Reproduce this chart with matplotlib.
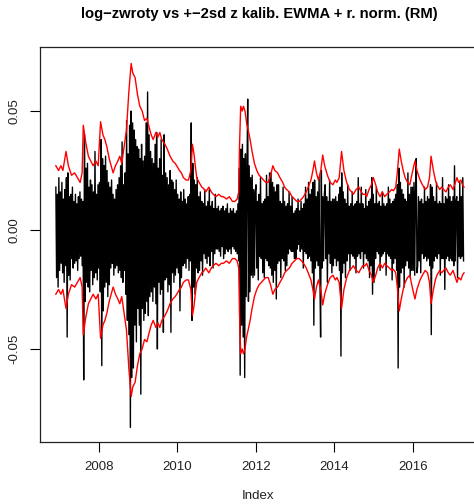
import numpy as np
import pandas as pd
import matplotlib
matplotlib.use('Agg')
import matplotlib.pyplot as plt

plt.rcParams['font.family'] = ['Liberation Sans', 'DejaVu Sans']

# weekly log-returns, in per mille (one list per calendar year)
r2006 = [18, -20, 15, -24, 22, -17]
r2007 = [16, -14, 20, -18, 13, -22, 17, -15, 22, -45,
         24, -19, 14, -21, 15, -12, 18, -16, 12, -14,
         15, -13, 11, -17, 14, -12, 16, -11, 13, -15,
         12, -63, 40, -30, 26, -22, 28, -24, 18, -26,
         21, -17, 19, -23, 16, -20, 33, -18, 15, -21, 19, -16]
r2008 = [20, -26, 38, -57, 30, -34, 27, -24, 31, -22,
         25, -28, 20, -23, 18, -16, 21, -14, 15, -19,
         13, -16, 17, -15, 19, -18, 22, -17, 27, -20,
         37, -22, 19, -17, 24, -27, 46, -38, 32, -44,
         44, -83, 50, -62, 45, -58, 42, -40, 38, -47, 35, -33]
r2009 = [34, -40, 30, -69, 36, -33, 29, -38, 31, -35,
         45, -30, 58, -36, 40, -28, 33, -26, 30, -30,
         28, -24, 36, -31, 41, -50, 26, -22, 30, -27,
         38, -25, 23, -43, 40, -21, 24, -20, 22, -26,
         19, -23, 25, -43, 21, -18, 20, -22, 17, -19, 21, -16]
r2010 = [15, -18, 13, -34, 16, -20, 12, -15, 17, -14,
         13, -16, 11, -12, 14, -17, 15, -13, 45, -38,
         28, -24, 21, -27, 19, -16, 22, -18, 14, -17,
         16, -13, 12, -19, 11, -10, 17, -12, 10, -14,
         12, -11, 17, -15, 10, -9, 12, -16, 9, -10, 15, -8]
r2011 = [9, -8, 10, -9, 8, -11, 9, -7, 10, -12,
         8, -10, 9, -8, 11, -9, 7, -8, 9, -10,
         8, -7, 9, -8, 7, -9, 8, -10, 11, -13,
         26, -61, 34, -40, 36, -45, 30, -62, 32, -28,
         24, 55, -30, 27, -26, 22, -19, 23, -20, 17, -19, 16]
r2012 = [19, -16, 12, -21, 15, -11, 22, -12, 11, -18,
         12, -20, 13, -12, 23, -13, 14, -15, 24, -16,
         24, -19, 20, -22, 18, -17, 16, -29, 19, -14,
         19, -13, 12, -20, 11, -12, 18, -13, 12, -17,
         10, -15, 11, -10, 16, -8, 10, -9, 14, -9, 7, -12]
r2013 = [8, -12, 9, -8, 13, -6, 8, -9, 12, -8,
         9, -16, 11, -9, 18, -10, 13, -12, 20, -11,
         15, -13, 17, -18, 20, -40, 21, -16, 14, -13,
         16, -15, 22, -18, -45, 25, -16, 14, -13, 15,
         19, -12, 14, -22, 12, -10, 21, -14, 12, -18, 13, -15]
r2014 = [13, -12, 14, -15, 12, -13, 15, -17, 18, -53,
         24, -18, 16, -14, 13, -20, 11, -13, 19, -10,
         10, -17, 11, -10, 16, -11, 10, -12, 11, -18,
         12, -11, 22, -10, 11, -12, 18, -9, 11, -16,
         9, -10, 17, -12, 10, -13, 12, -20, 13, -15, 22, -27]
r2015 = [15, -22, 11, -12, 18, -9, 11, -10, 12, -17,
         10, -11, 16, -10, 11, -9, 10, -19, 11, -10,
         18, -11, 13, -12, 11, -21, 12, -14, 13, -12,
         15, -17, 19, -58, 26, -24, 20, -18, 17, -16,
         15, -24, 13, -15, 12, -13, 24, -16, 15, -20, 18, -17]
r2016 = [18, -17, 20, -19, 16, 30, -18, -15, 14, -13,
         12, -18, 13, -10, 11, -12, 18, -11, 12, -13,
         14, -12, 13, -15, 19, -44, 18, -16, 14, -13,
         12, -11, 20, -12, 11, -10, 12, -19, 11, -12,
         22, -12, 11, -25, 14, -12, 13, -11, 19, -13, 14, -12]
r2017 = [12, -13, 14, -15, 27, -13, 12, 14, -20, 12,
         -11, 20, -12, 14, -11, 22, -13]

# +2sd EWMA band (decimal year, per mille)
sd2_t = [2006.90, 2006.97, 2007.03, 2007.08, 2007.16, 2007.22, 2007.30, 2007.38,
         2007.45, 2007.52, 2007.57, 2007.60, 2007.66, 2007.73, 2007.79, 2007.85,
         2007.92, 2007.98, 2008.04, 2008.10, 2008.15, 2008.20, 2008.26, 2008.31,
         2008.36, 2008.42, 2008.48, 2008.53, 2008.58, 2008.64, 2008.70, 2008.76,
         2008.80, 2008.82, 2008.86, 2008.92, 2008.98, 2009.04, 2009.10, 2009.16,
         2009.22, 2009.28, 2009.33, 2009.38, 2009.45, 2009.50, 2009.55, 2009.60,
         2009.68, 2009.74, 2009.81, 2009.88, 2009.94, 2009.98, 2010.05, 2010.10,
         2010.15, 2010.22, 2010.28, 2010.34, 2010.38, 2010.42, 2010.46, 2010.49,
         2010.55, 2010.62, 2010.66, 2010.72, 2010.80, 2010.86, 2010.91, 2010.98,
         2011.05, 2011.12, 2011.17, 2011.25, 2011.32, 2011.40, 2011.46, 2011.52,
         2011.56, 2011.58, 2011.61, 2011.65, 2011.68, 2011.72, 2011.76, 2011.80,
         2011.85, 2011.90, 2011.96, 2012.02, 2012.08, 2012.14, 2012.19, 2012.25,
         2012.31, 2012.37, 2012.43, 2012.48, 2012.55, 2012.61, 2012.68, 2012.73,
         2012.78, 2012.85, 2012.92, 2012.98, 2013.04, 2013.10, 2013.16, 2013.21,
         2013.28, 2013.33, 2013.40, 2013.45, 2013.49, 2013.54, 2013.59, 2013.65,
         2013.70, 2013.75, 2013.82, 2013.89, 2013.96, 2014.02, 2014.06, 2014.12,
         2014.18, 2014.24, 2014.31, 2014.38, 2014.44, 2014.48, 2014.55, 2014.62,
         2014.65, 2014.72, 2014.78, 2014.82, 2014.88, 2014.94, 2014.99, 2015.05,
         2015.10, 2015.16, 2015.22, 2015.28, 2015.33, 2015.40, 2015.46, 2015.50,
         2015.56, 2015.60, 2015.65, 2015.70, 2015.75, 2015.80, 2015.86, 2015.92,
         2015.98, 2016.05, 2016.10, 2016.18, 2016.24, 2016.31, 2016.37, 2016.42,
         2016.46, 2016.52, 2016.57, 2016.61, 2016.68, 2016.73, 2016.78, 2016.84,
         2016.90, 2016.95, 2017.02, 2017.08, 2017.12, 2017.16, 2017.22, 2017.26,
         2017.30]
sd2_pm = [27, 25, 27, 25, 33, 27, 23, 24,
          22, 20, 24, 44, 37, 31, 29, 27,
          29, 27, 45.5, 40, 38, 35, 30, 27,
          24, 27, 29, 31, 28, 35, 42, 58,
          66, 70, 66, 64, 57, 52, 50, 46,
          47, 43, 40, 38, 41, 39, 41, 38,
          36, 34, 31, 29, 28, 27, 25, 24,
          22, 21, 21, 25, 36, 32, 26, 22,
          20, 18, 17.5, 16, 18, 16, 15, 14,
          15, 14, 14, 13, 14, 12, 12, 13,
          16, 35, 52, 50, 52, 50, 45, 42,
          38, 33, 28, 25, 23, 22, 21, 20,
          20, 23, 27, 25, 24, 22, 20, 18,
          17, 16, 14, 13, 12, 12, 13, 14,
          16, 18, 21, 25, 29, 24, 21, 25,
          31.5, 27, 23, 20, 19, 21, 20, 22,
          33, 25, 20, 17, 16, 15, 17, 18,
          17, 15, 15, 14, 17, 19, 22, 19,
          16, 14, 16, 14, 15, 16, 17, 16.5,
          18, 24, 34, 29, 25, 22, 20, 19,
          24, 29, 25, 21, 19, 17, 18, 22,
          31, 25, 21, 19, 17, 18, 17, 16,
          18, 19, 17, 20, 22, 20, 21, 19,
          18]

ret_pm = r2006 + r2007 + r2008 + r2009 + r2010 + r2011 + r2012 + r2013 + r2014 + r2015 + r2016 + r2017
dates = pd.date_range('2006-11-26', periods=len(ret_pm), freq='W')
t = dates.year + (dates.dayofyear - 1) / 365.25
ret = np.array(ret_pm) / 1000
sd2 = np.array(sd2_pm) / 1000

fig = plt.figure(figsize=(4.74, 5.04), dpi=100)
ax = fig.add_axes([40 / 474, 62 / 504, 440 / 474, 395 / 504])

ax.plot(t, ret, color='black', lw=1.0)
ax.plot(sd2_t, sd2, color='red', lw=1.0)
ax.plot(sd2_t, -sd2, color='red', lw=1.0)

ax.set_xlim(2006.497, 2017.707)
ax.set_ylim(-0.0891, 0.0769)
ax.set_xticks([2008, 2010, 2012, 2014, 2016])
ax.set_xticklabels(['2008', '2010', '2012', '2014', '2016'])
ax.set_yticks([-0.05, 0.0, 0.05])
ax.set_yticklabels(['-0.05', '0.00', '0.05'], rotation=90, va='center')
ax.tick_params(length=7, width=0.8, pad=7, labelsize=9.5, labelcolor='#222222')
for s in ax.spines.values():
    s.set_linewidth(0.9)
    s.set_color('#222222')

fig.text(259 / 474, 1 - 14 / 504, 'log\u2212zwroty vs +\u22122sd z kalib. EWMA + r. norm. (RM)',
         ha='center', va='center', fontsize=10.6, fontweight='bold')
fig.text(258 / 474, 1 - 496 / 504, 'Index', ha='center', va='center', fontsize=9.5, color='#222222')

fig.savefig('out.png', dpi=100)
